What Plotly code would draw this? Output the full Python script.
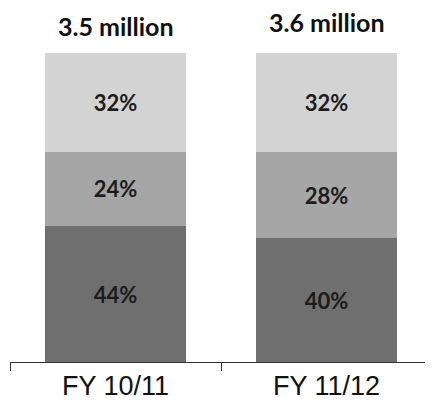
import plotly.graph_objects as go

categories = ["FY 10/11", "FY 11/12"]
totals = ["3.5 million", "3.6 million"]
bottom_share = [44, 40]
middle_share = [24, 28]
top_share = [32, 32]
colors = ["#6f6f6f", "#a6a6a6", "#d3d3d3"]

fig = go.Figure()
for vals, col in zip([bottom_share, middle_share, top_share], colors):
    fig.add_trace(go.Bar(
        x=categories, y=vals,
        marker=dict(color=col, line=dict(width=0)),
        text=[f"{v}%" for v in vals],
        textposition="inside", insidetextanchor="middle",
        textfont=dict(family="Lato", size=22, color="#1c1c1c", weight="bold"),
        showlegend=False,
    ))

for i, (c, t) in enumerate(zip(categories, totals)):
    fig.add_annotation(
        x=c, y=100, xref="x", yref="y", yanchor="bottom",
        yshift=10 + 4 * i, text=f"<b>{t}</b>", showarrow=False,
        font=dict(family="Lato", size=25, color="#111111"),
    )

# page body adds an 8px offset, so the figure is sized to fill the rest
fig.update_layout(
    width=425, height=399,
    margin=dict(l=2, r=1, t=45, b=45),
    barmode="stack", bargap=0.33,
    plot_bgcolor="white", paper_bgcolor="white",
    uniformtext=dict(minsize=10, mode="show"),
)
fig.update_xaxes(
    showline=True, linecolor="#333333", linewidth=1,
    ticks="outside", tickson="boundaries", ticklen=8, tickcolor="#333333",
    tickfont=dict(family="Liberation Sans", size=27, color="#111111"),
    showgrid=False, automargin=False,
)
fig.update_yaxes(range=[0, 100], visible=False, showgrid=False, automargin=False)

fig.write_html("out.html")
